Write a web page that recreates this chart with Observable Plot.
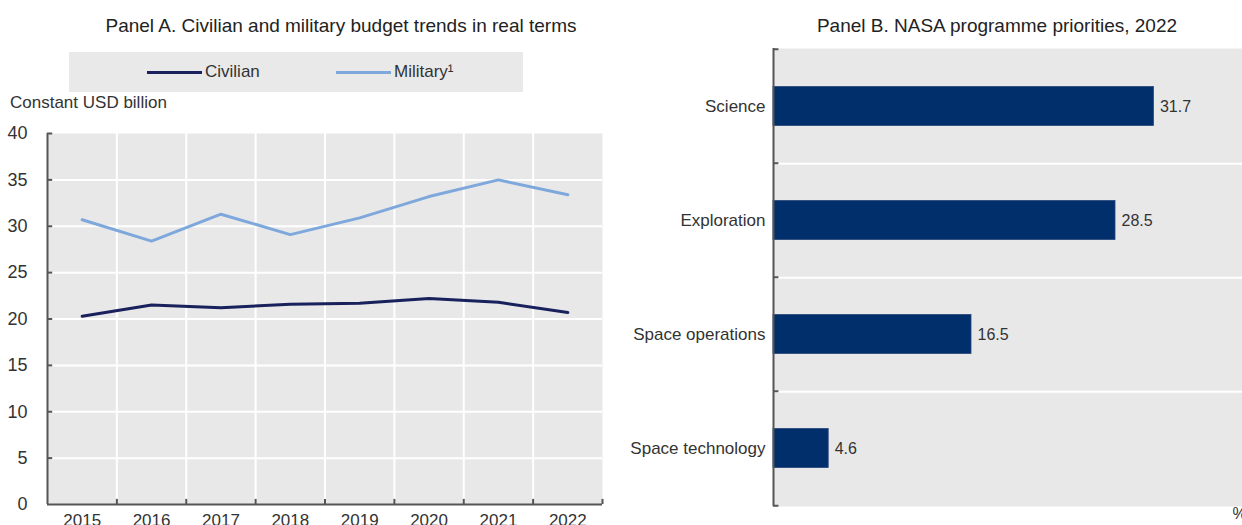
<!DOCTYPE html>
<html>
<head>
<meta charset="utf-8">
<script src="https://cdn.jsdelivr.net/npm/d3@7"></script>
<script src="https://cdn.jsdelivr.net/npm/@observablehq/plot@0.6"></script>
<style>
  body { margin: 0; background: #fff; }
  #wrap { position: relative; width: 1242px; height: 525px; overflow: hidden;
    font-family: "Liberation Sans Narrow", "Arial Narrow", "Liberation Sans", Arial, sans-serif; color: #333; }
  .abs { position: absolute; white-space: nowrap; }
  #legendA { position: absolute; left: 69px; top: 52px; width: 454px; height: 40px; background: #e9e9e9; }
  .lg-item { position: absolute; top: 0; height: 40px; display: flex; align-items: center; font-size: 17px; }
  .lg-swatch { display: inline-block; width: 55px; height: 3px; margin-right: 3px; }
</style>
</head>
<body>
<div id="wrap">
  <div class="abs" style="left:0;width:682px;text-align:center;top:15px;font-size:19px;color:#222;">Panel A. Civilian and military budget trends in real terms</div>
  <div class="abs" style="left:620px;width:754px;text-align:center;top:15px;font-size:19px;color:#222;">Panel B. NASA programme priorities, 2022</div>
  <div id="legendA"></div>
  <div class="abs" style="left:10px;top:93px;font-size:17px;">Constant USD billion</div>
  <div class="abs" id="panelA" style="left:0;top:95px;"></div>
  <div class="abs" id="panelB" style="left:620px;top:40px;"></div>
</div>
<script>
// ---- Data ----
const years = [2015, 2016, 2017, 2018, 2019, 2020, 2021, 2022];
const civilian = [20.3, 21.5, 21.2, 21.6, 21.7, 22.2, 21.8, 20.7];
const military = [30.7, 28.4, 31.3, 29.1, 30.9, 33.2, 35.0, 33.4];
const seriesNames = ["Civilian", "Military"];
const seriesLabels = ["Civilian", "Military¹"];
const seriesColors = ["#18215c", "#7ea8dc"];
const yTicks = [0, 5, 10, 15, 20, 25, 30, 35, 40];

const categories = ["Science", "Exploration", "Space operations", "Space technology"];
const shares = [31.7, 28.5, 16.5, 4.6];

const font = '"Liberation Sans Narrow", "Arial Narrow", "Liberation Sans", Arial, sans-serif';
const gray = "#e8e8e8";
const axisColor = "#555";

// ---- Legend (HTML) ----
const legendPos = [78, 267];
const legend = document.getElementById("legendA");
seriesNames.forEach((name, i) => {
  const item = document.createElement("div");
  item.className = "lg-item";
  item.style.left = legendPos[i] + "px";
  item.innerHTML = `<span class="lg-swatch" style="background:${seriesColors[i]}"></span>${seriesLabels[i]}`;
  legend.appendChild(item);
});

// ---- Panel A ----
const lineData = [];
years.forEach((y, i) => {
  lineData.push({year: y, series: "Civilian", value: civilian[i]});
  lineData.push({year: y, series: "Military", value: military[i]});
});
const xMin = years[0] - 0.5, xMax = years[years.length - 1] + 0.5;
const bounds = years.map(y => y + 0.5);          // band boundaries (ticks)
const innerBounds = bounds.slice(0, -1);          // white vertical grid
const innerY = yTicks.slice(1, -1);               // white horizontal grid

const A = Plot.plot({
  width: 620, height: 430,
  marginTop: 38, marginBottom: 21, marginLeft: 47, marginRight: 18,
  style: {fontFamily: font, fontSize: "18px", color: "#333", background: "transparent", maxWidth: "none", overflow: "visible"},
  x: {domain: [xMin, xMax]},
  y: {domain: [0, 40]},
  color: {domain: seriesNames, range: seriesColors},
  marks: [
    Plot.frame({fill: gray, stroke: null}),
    Plot.ruleY(innerY, {stroke: "white", strokeWidth: 2}),
    Plot.ruleX(innerBounds, {stroke: "white", strokeWidth: 2}),
    Plot.line(lineData, {x: "year", y: "value", stroke: "series", z: "series", strokeWidth: 3}),
    Plot.ruleY([0], {stroke: axisColor, strokeWidth: 2}),
    Plot.ruleX([xMin], {stroke: axisColor, strokeWidth: 2}),
    Plot.ruleX(bounds, {x: d => d, y1: 0, y2: 0.55, stroke: axisColor, strokeWidth: 2}),
    Plot.ruleY(yTicks.slice(1), {y: d => d, x1: xMin, x2: xMin + 0.075, stroke: axisColor, strokeWidth: 2}),
    Plot.axisY({ticks: yTicks, tickSize: 0, tickPadding: 20, label: null, fontSize: 18}),
    Plot.axisX({ticks: years, tickFormat: d => String(d), tickSize: 0, tickPadding: 9, label: null, fontSize: 17})
  ]
});
document.getElementById("panelA").appendChild(A);

// ---- Panel B ----
const barData = categories.map((c, i) => ({category: c, value: shares[i]}));
const bHeight = 485, bTop = 8, bBottom = 19;
const step = (bHeight - bTop - bBottom) / categories.length;
const barInset = (step - 39.5) / 2;

const B = Plot.plot({
  width: 633, height: bHeight,
  marginTop: bTop, marginBottom: bBottom, marginLeft: 153, marginRight: 0,
  style: {fontFamily: font, fontSize: "17px", color: "#333", background: "transparent", maxWidth: "none", overflow: "visible"},
  x: {domain: [0, 40], axis: null},
  y: {domain: categories, padding: 0},
  marks: [
    Plot.frame({fill: gray, stroke: null}),
    Plot.ruleY(categories.slice(0, -1), {y: d => d, dy: step / 2, stroke: "white", strokeWidth: 2}),
    Plot.barX(barData, {x: "value", y: "category", fill: "#002f6c", stroke: "#27457a", strokeWidth: 0.8, insetTop: barInset, insetBottom: barInset}),
    Plot.text(barData, {x: "value", y: "category", text: d => d.value.toFixed(1), textAnchor: "start", dx: 6, fontSize: 16, fill: "#333"}),
    Plot.ruleX([0], {stroke: axisColor, strokeWidth: 2}),
    Plot.ruleY(categories, {y: d => d, dy: -step / 2, x1: 0, x2: 0.45, stroke: axisColor, strokeWidth: 2}),
    Plot.ruleY(categories.slice(-1), {y: d => d, dy: step / 2, x1: 0, x2: 0.45, stroke: axisColor, strokeWidth: 2}),
    Plot.axisY({tickSize: 0, tickPadding: 8, label: null, fontSize: 17}),
    Plot.text(["%"], {frameAnchor: "bottom-right", text: d => d, dx: -21, dy: 12, textAnchor: "start", fontSize: 16, fill: "#333"})
  ]
});
document.getElementById("panelB").appendChild(B);
</script>
</body>
</html>
